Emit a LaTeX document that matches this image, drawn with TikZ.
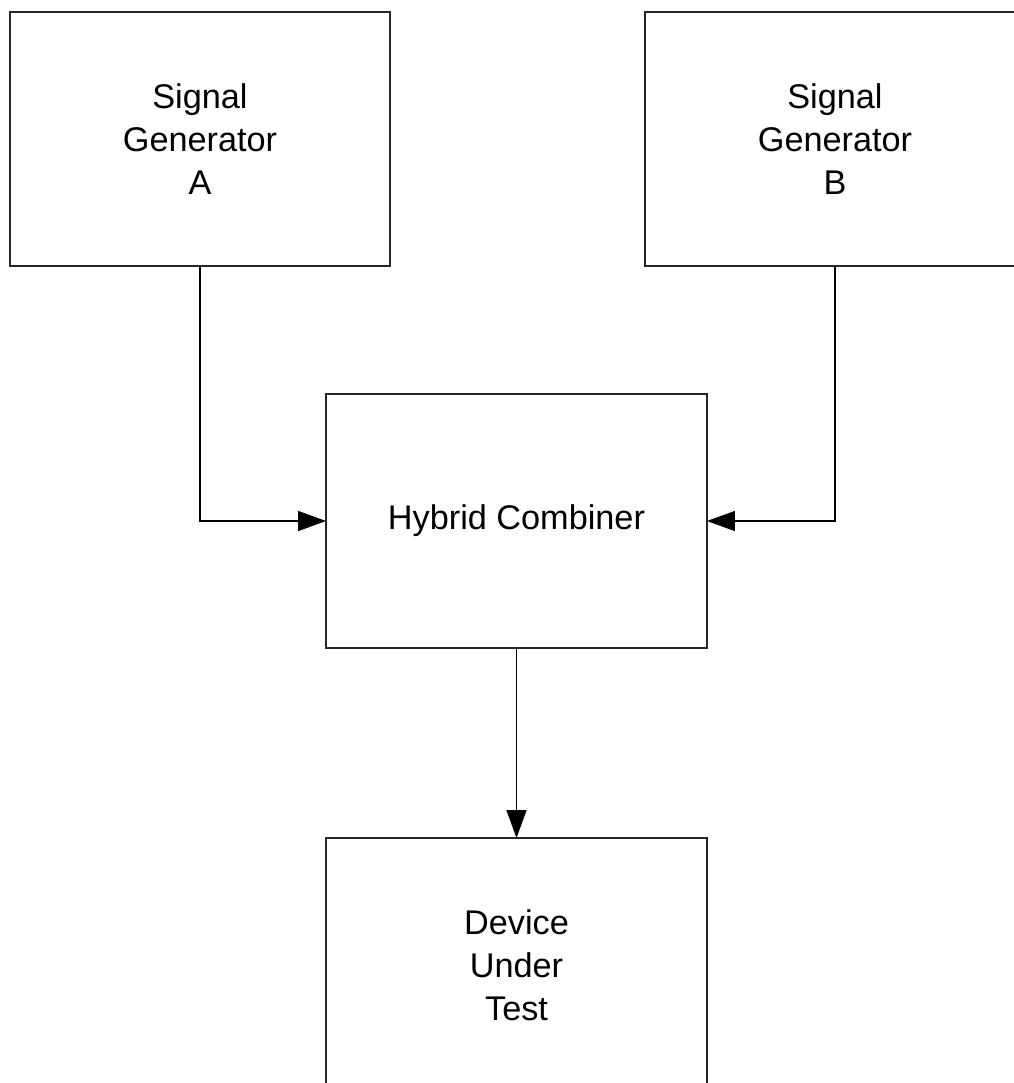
\documentclass[tikz,border=0pt]{standalone}
\usepackage{fontspec}
\setmainfont{Liberation Sans}
\usetikzlibrary{arrows.meta}

\begin{document}
\begin{tikzpicture}[x=0.02cm,y=-0.02cm,
    block/.style={draw=black!85,line width=1.1pt,minimum width=7.62cm,minimum height=5.08cm,
        inner sep=0pt,outer sep=0pt,align=center,font=\fontsize{19.5}{24.4}\selectfont},
    conn/.style={line width=0.85pt,-{Triangle[length=0.56cm,width=0.4cm]}}]
            \useasboundingbox (0,0) rectangle (1014,1083);
            \clip (0,0) rectangle (1014,1083);
            \node[block] (genA) at (200,139) {Signal\\Generator\\A};
            \node[block] (genB) at (835,139) {Signal\\Generator\\B};
            \node[block] (comb) at (516.5,521) {Hybrid Combiner};
            \node[block] (dut) at (516.5,965) {Device\\Under\\Test};
            \draw[conn] (genA.south) |- (comb.west);
            \draw[conn] (genB.south) |- (comb.east);
            \draw[conn] (comb.south) -- (dut.north);
        \end{tikzpicture}
\end{document}
